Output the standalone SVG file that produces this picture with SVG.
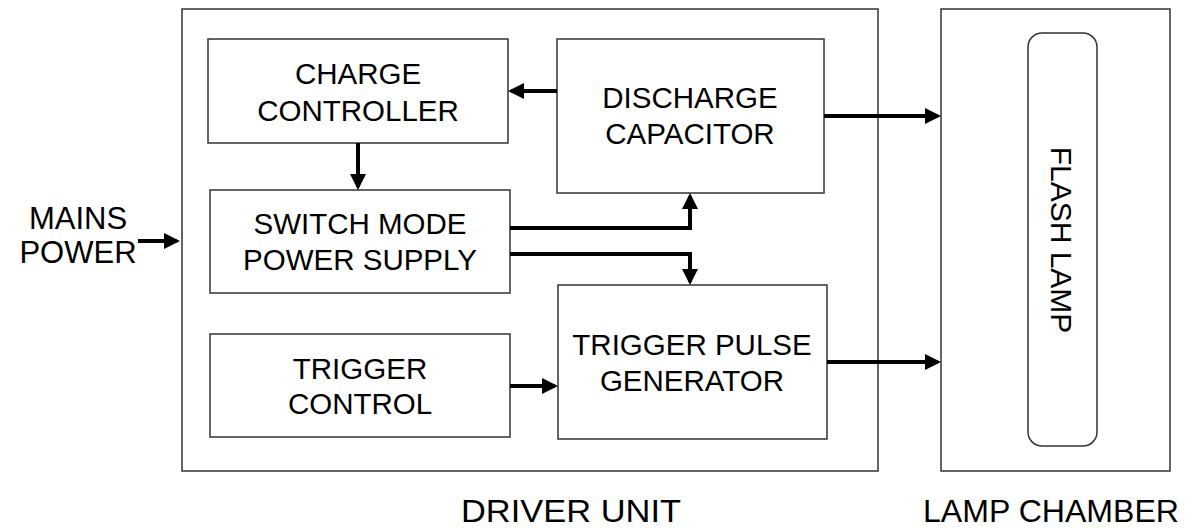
<svg xmlns="http://www.w3.org/2000/svg" width="1196" height="531" viewBox="0 0 1196 531">
<style>
.box{fill:#fff;stroke:#333;stroke-width:1.5}
.t{font-family:"Liberation Sans",Arial,sans-serif;font-size:29.5px;fill:#000;text-anchor:middle}
.c{fill:none;stroke:#000;stroke-width:4}
</style>
<defs>
<marker id="ah" markerWidth="4" markerHeight="4" refX="3.2" refY="2" orient="auto" markerUnits="strokeWidth" viewBox="0 0 4 4">
<path d="M0,0 L4,2 L0,4 Z" fill="#000"/>
</marker>
</defs>
<rect width="1196" height="531" fill="#fff"/>
<g id="driver-unit">
<rect class="box" x="182" y="9" width="696" height="462"/>
<text class="t" x="571" y="522" style="font-size:30.5px" textLength="220" lengthAdjust="spacingAndGlyphs">DRIVER UNIT</text>
</g>
<g id="lamp-chamber">
<rect class="box" x="941" y="9" width="229" height="462"/>
<text class="t" x="1051" y="522" style="font-size:31px" textLength="256" lengthAdjust="spacingAndGlyphs">LAMP CHAMBER</text>
</g>
<g id="flash-lamp">
<rect class="box" x="1028" y="33" width="69" height="413" rx="14"/>
<text class="t" transform="translate(1051,240) rotate(90)" x="0" y="0" style="font-size:30px">FLASH LAMP</text>
</g>
<g id="mains-power">
<text class="t" x="78" y="229" style="font-size:31px">MAINS</text>
<text class="t" x="78" y="263" style="font-size:31px">POWER</text>
</g>
<g id="charge-controller">
<rect class="box" x="208" y="39" width="300" height="104"/>
<text class="t" x="358" y="84">CHARGE</text>
<text class="t" x="358" y="121">CONTROLLER</text>
</g>
<g id="discharge-capacitor">
<rect class="box" x="557" y="39" width="267" height="154"/>
<text class="t" x="690" y="108">DISCHARGE</text>
<text class="t" x="690" y="144">CAPACITOR</text>
</g>
<g id="switch-mode-power-supply">
<rect class="box" x="210" y="190" width="300" height="103"/>
<text class="t" x="360" y="234">SWITCH MODE</text>
<text class="t" x="360" y="270">POWER SUPPLY</text>
</g>
<g id="trigger-control">
<rect class="box" x="210" y="334" width="300" height="103"/>
<text class="t" x="360" y="379">TRIGGER</text>
<text class="t" x="360" y="414">CONTROL</text>
</g>
<g id="trigger-pulse-generator">
<rect class="box" x="558" y="285" width="269" height="154"/>
<text class="t" x="692" y="355">TRIGGER PULSE</text>
<text class="t" x="692" y="391">GENERATOR</text>
</g>
<g id="connectors">
<path class="c" d="M138,241 H176.8" marker-end="url(#ah)"/>
<path class="c" d="M557,91 H511.2" marker-end="url(#ah)"/>
<path class="c" d="M358,143 V186.8" marker-end="url(#ah)"/>
<path class="c" d="M510,228 H690 V196.2" marker-end="url(#ah)"/>
<path class="c" d="M510,254 H690 V281.8" marker-end="url(#ah)"/>
<path class="c" d="M510,386 H554.8" marker-end="url(#ah)"/>
<path class="c" d="M824,116 H937.8" marker-end="url(#ah)"/>
<path class="c" d="M827,362 H937.8" marker-end="url(#ah)"/>
</g>
</svg>
